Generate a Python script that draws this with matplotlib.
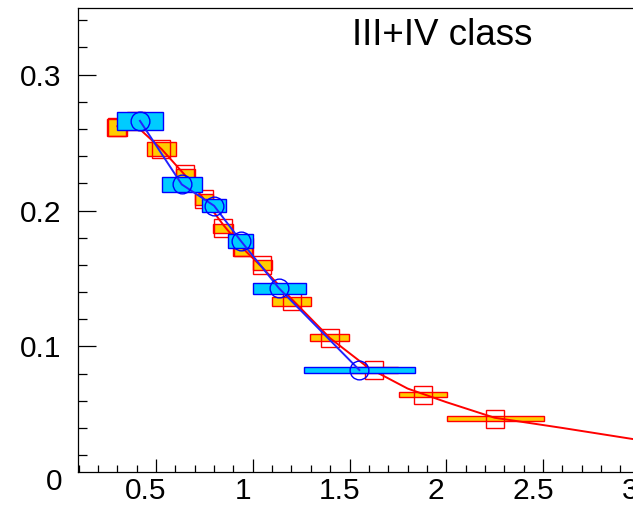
import matplotlib
matplotlib.use("Agg")
import matplotlib.pyplot as plt
from matplotlib.ticker import MultipleLocator, FixedLocator
import matplotlib.transforms as mtransforms

plt.rcParams['font.family'] = ['Liberation Sans', 'DejaVu Sans']

# class III+IV, open squares with systematic boxes
red_x = [0.297, 0.396, 0.528, 0.652, 0.749, 0.848, 0.950, 1.050, 1.201, 1.398, 1.629, 1.879, 2.253]
red_y = [0.2612, 0.2660, 0.2454, 0.2266, 0.2082, 0.1868, 0.1730, 0.1596, 0.1332, 0.1065, 0.0825, 0.0644, 0.0468]
red_dx = [0.052, 0.050, 0.0757, 0.049, 0.047, 0.052, 0.050, 0.047, 0.102, 0.1008, 0.121, 0.125, 0.2515]
red_dy = [0.0065, 0.0050, 0.0051, 0.0040, 0.0043, 0.0032, 0.0065, 0.0037, 0.0032, 0.0028, 0.0020, 0.0017, 0.0020]

# fitted curve through the open squares
fit_x = [0.30, 0.40, 0.53, 0.65, 0.75, 0.85, 0.95, 1.05, 1.20, 1.40, 1.60, 1.80, 2.00, 2.25, 2.60, 2.97, 3.20]
fit_y = [0.262, 0.262, 0.245, 0.226, 0.208, 0.189, 0.172, 0.158, 0.135, 0.106, 0.084, 0.069, 0.059, 0.0475, 0.0400, 0.0317, 0.0280]

# open circles with cyan boxes
blue_x = [0.417, 0.633, 0.800, 0.938, 1.136, 1.551]
blue_y = [0.2660, 0.2192, 0.2035, 0.1777, 0.1427, 0.0826]
blue_dx = [0.117, 0.104, 0.064, 0.065, 0.137, 0.285]
blue_dy = [0.0064, 0.0055, 0.0048, 0.0052, 0.0040, 0.0024]

fig = plt.figure(figsize=(6.33, 5.05), dpi=100)
ax = fig.add_axes([78.3 / 633, 33.3 / 505, 619.5 / 633, 463.4 / 505])

ax.bar(red_x, [2 * d for d in red_dy], width=[2 * d for d in red_dx],
       bottom=[y - d for y, d in zip(red_y, red_dy)],
       color='#ffcc00', edgecolor='#ff0000', linewidth=1.0, zorder=2)
ax.plot(red_x, red_y, linestyle='none', marker='s', markersize=13.5,
        markerfacecolor='none', markeredgecolor='#ff0000', markeredgewidth=1.0, zorder=3)
ax.plot(fit_x, fit_y, color='#ff0000', linewidth=1.4, zorder=4)

ax.bar(blue_x, [2 * d for d in blue_dy], width=[2 * d for d in blue_dx],
       bottom=[y - d for y, d in zip(blue_y, blue_dy)],
       color='#00ccff', edgecolor='#0000ff', linewidth=1.0, zorder=5)
ax.plot(blue_x, blue_y, color='#2222ff', linewidth=1.4, zorder=6)
ax.plot(blue_x, blue_y, linestyle='none', marker='o', markersize=13.5,
        markerfacecolor='none', markeredgecolor='#0000ff', markeredgewidth=1.0, zorder=7)

ax.set_xlim(0.0984, 3.3)
ax.set_ylim(0.0078, 0.3488)

ax.xaxis.set_major_locator(FixedLocator([0.5, 1.0, 1.5, 2.0, 2.5, 3.0]))
ax.xaxis.set_minor_locator(MultipleLocator(0.1))
ax.set_xticklabels(['0.5', '1', '1.5', '2', '2.5', '3'])
ax.yaxis.set_major_locator(FixedLocator([0.1, 0.2, 0.3]))
ax.yaxis.set_minor_locator(MultipleLocator(0.02))
ax.set_yticklabels(['0.1', '0.2', '0.3'])

ax.tick_params(axis='both', which='both', direction='in', colors='black',
               labelsize=21.5, top=False, right=False)
ax.tick_params(axis='x', which='major', length=9.5, width=0.9, pad=4)
ax.tick_params(axis='x', which='minor', length=4.8, width=0.9)
ax.tick_params(axis='y', which='major', length=13, width=0.9, pad=12)
ax.tick_params(axis='y', which='minor', length=6.5, width=0.9)

# x labels sit a little left of their ticks
shift = mtransforms.ScaledTranslation(-0.10, 0, fig.dpi_scale_trans)
for lbl in ax.get_xticklabels():
    lbl.set_transform(lbl.get_transform() + shift)

# zero label sits at y = 0, just under the frame
trans = mtransforms.blended_transform_factory(ax.transAxes, ax.transData)
ax.text(-0.025, 0.0, '0', transform=trans, ha='right', va='center',
        fontsize=21.5, clip_on=False)

for side in ['left', 'bottom', 'top', 'right']:
    ax.spines[side].set_linewidth(0.9)

ax.text(442 / 633, 1 - 35 / 505, 'III+IV class', transform=fig.transFigure,
        ha='center', va='center', fontsize=26.5)

fig.savefig('out.png', dpi=100)
